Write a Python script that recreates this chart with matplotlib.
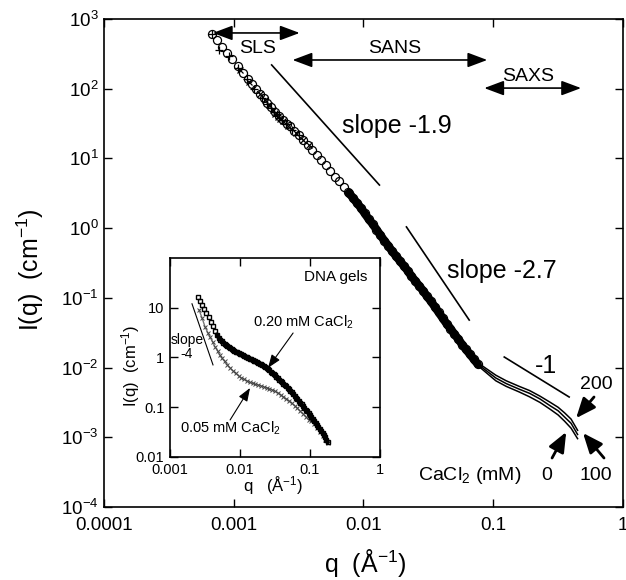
import numpy as np
import matplotlib.pyplot as plt
from matplotlib.ticker import NullLocator

plt.rcParams.update({
    'font.family': ['Liberation Sans', 'DejaVu Sans'],
    'mathtext.fontset': 'custom',
    'mathtext.rm': 'Liberation Sans',
    'mathtext.it': 'Liberation Sans:italic',
    'mathtext.bf': 'Liberation Sans:bold',
    'axes.linewidth': 1.2,
})

# ---- main panel: log10 q (1/A) and log10 I(q) (1/cm) ----
# light scattering, open circles
lq_sls_o = [-3.165, -3.13, -3.09, -3.05, -3.01, -2.97, -2.93, -2.89, -2.86, -2.83,
            -2.80, -2.77, -2.74, -2.71, -2.68, -2.65, -2.62, -2.59]
lI_sls_o = [2.79, 2.70, 2.60, 2.51, 2.42, 2.32, 2.23, 2.14, 2.07, 2.00,
            1.93, 1.87, 1.80, 1.74, 1.67, 1.61, 1.55, 1.49]
# light scattering, plus signs
lq_sls_p = [-3.165, -3.11, -3.04, -2.97, -2.90, -2.84, -2.78, -2.74, -2.71, -2.69,
            -2.67, -2.65, -2.63, -2.60, -2.55, -2.50]
lI_sls_p = [2.78, 2.56, 2.47, 2.30, 2.14, 2.00, 1.87, 1.78, 1.72, 1.67,
            1.63, 1.58, 1.55, 1.50, 1.41, 1.33]
# light scattering, crosses
lq_sls_x = [-2.95, -2.88, -2.80, -2.76, -2.73, -2.70, -2.68, -2.66, -2.64, -2.62,
            -2.58, -2.52, -2.47, -2.42]
lI_sls_x = [2.27, 2.10, 1.92, 1.84, 1.76, 1.70, 1.64, 1.60, 1.57, 1.54,
            1.46, 1.36, 1.27, 1.19]

# neutrons, low-q end
lq_sans_lo = [-2.57, -2.535, -2.50, -2.465, -2.43, -2.395, -2.36, -2.325, -2.29,
              -2.255, -2.22, -2.185, -2.15, -2.12]
lI_sans_lo = [1.46, 1.40, 1.33, 1.26, 1.19, 1.12, 1.05, 0.97, 0.90,
              0.82, 0.74, 0.67, 0.59, 0.52]
# neutrons, dense part
lq_sans = [-2.11, -2.08, -2.05, -2.02, -1.99, -1.96, -1.93, -1.90, -1.87, -1.84,
           -1.81, -1.78, -1.75, -1.72, -1.69, -1.66, -1.63, -1.60, -1.57, -1.54,
           -1.51, -1.48, -1.45, -1.42, -1.39, -1.36, -1.33, -1.30, -1.27, -1.24,
           -1.21, -1.18, -1.15, -1.12]
lI_sans = [0.50, 0.43, 0.36, 0.29, 0.21, 0.13, 0.06, -0.02, -0.10, -0.18,
           -0.25, -0.33, -0.40, -0.47, -0.54, -0.61, -0.69, -0.76, -0.83, -0.90,
           -0.98, -1.05, -1.13, -1.21, -1.29, -1.37, -1.44, -1.52, -1.59, -1.67,
           -1.74, -1.81, -1.88, -1.95]

# x-rays, one curve per CaCl2 concentration
lq_saxs = [-1.12, -1.05, -0.98, -0.90, -0.80, -0.72, -0.64, -0.56, -0.50, -0.45, -0.40, -0.35]
lI_saxs_200 = [-1.93, -2.02, -2.11, -2.19, -2.27, -2.33, -2.41, -2.50, -2.57, -2.65, -2.74, -2.90]
lI_saxs_0 = [-1.95, -2.05, -2.15, -2.23, -2.31, -2.37, -2.45, -2.55, -2.62, -2.71, -2.80, -2.96]
lI_saxs_100 = [-1.97, -2.08, -2.19, -2.27, -2.35, -2.42, -2.50, -2.60, -2.68, -2.77, -2.87, -3.02]

# power-law guides (q, I) end points
guide_19 = ([0.00196, 0.01327], [219.0, 4.15])
guide_27 = ([0.02143, 0.0653], [1.04, 0.048])
guide_1 = ([0.1216, 0.3846], [0.01416, 0.00378])

# ---- inset: DNA gels ----
lq_020_top = [-2.60, -2.57, -2.54, -2.51, -2.48, -2.45, -2.42, -2.39, -2.36]
lI_020_top = [1.22, 1.14, 1.06, 0.98, 0.89, 0.82, 0.72, 0.63, 0.53]
lq_020 = [-2.33, -2.30, -2.28, -2.26, -2.24, -2.22, -2.20, -2.18, -2.16, -2.14,
          -2.12, -2.10, -2.08, -2.06, -2.04, -2.02, -2.00, -1.98, -1.96, -1.94,
          -1.92, -1.90, -1.88, -1.86, -1.84, -1.82, -1.80, -1.78, -1.76, -1.74,
          -1.72, -1.70, -1.68, -1.66, -1.64, -1.62, -1.60, -1.58, -1.56, -1.54,
          -1.52, -1.50, -1.48, -1.46, -1.44, -1.42, -1.40, -1.38, -1.36, -1.34,
          -1.32, -1.30, -1.28, -1.26, -1.24, -1.22, -1.20, -1.18, -1.16, -1.14,
          -1.12, -1.10, -1.08, -1.06, -1.04, -1.02, -1.00, -0.98, -0.96, -0.94,
          -0.92, -0.90, -0.88, -0.86, -0.84, -0.82, -0.80, -0.78, -0.765, -0.75]
lI_020 = [0.46, 0.39, 0.36, 0.33, 0.30, 0.28, 0.26, 0.24, 0.22, 0.20,
          0.18, 0.16, 0.14, 0.12, 0.105, 0.09, 0.075, 0.06, 0.045, 0.03,
          0.015, 0.00, -0.015, -0.03, -0.04, -0.05, -0.065, -0.08, -0.095, -0.11,
          -0.125, -0.14, -0.16, -0.18, -0.20, -0.22, -0.24, -0.26, -0.285, -0.31,
          -0.335, -0.36, -0.39, -0.42, -0.445, -0.47, -0.50, -0.53, -0.555, -0.58,
          -0.61, -0.64, -0.67, -0.70, -0.735, -0.77, -0.805, -0.84, -0.875, -0.91,
          -0.945, -0.98, -1.015, -1.05, -1.085, -1.12, -1.16, -1.20, -1.235, -1.27,
          -1.31, -1.35, -1.39, -1.43, -1.47, -1.51, -1.555, -1.60, -1.65, -1.70]
lq_005 = [-2.586, -2.543, -2.50, -2.46, -2.43, -2.39, -2.357, -2.32, -2.29, -2.26,
          -2.22, -2.18, -2.14, -2.10, -2.06, -2.02, -1.98, -1.94, -1.90, -1.86,
          -1.82, -1.78, -1.74, -1.70, -1.66, -1.62, -1.58, -1.54, -1.50, -1.46,
          -1.42, -1.38, -1.34, -1.30, -1.26, -1.22, -1.18, -1.14, -1.10, -1.06,
          -1.02, -0.98, -0.94, -0.90, -0.86, -0.82, -0.78, -0.75]
lI_005 = [0.958, 0.797, 0.616, 0.50, 0.414, 0.31, 0.213, 0.13, 0.05, -0.01,
          -0.08, -0.15, -0.21, -0.27, -0.32, -0.37, -0.41, -0.44, -0.47, -0.50,
          -0.52, -0.54, -0.55, -0.57, -0.59, -0.61, -0.63, -0.65, -0.68, -0.71,
          -0.75, -0.79, -0.83, -0.87, -0.92, -0.97, -1.02, -1.08, -1.13, -1.19,
          -1.25, -1.28, -1.34, -1.41, -1.49, -1.57, -1.65, -1.71]
guide_4 = ([0.00206, 0.00411], [12.0, 0.71])

main_xticks = [1e-4, 1e-3, 1e-2, 1e-1, 1.0]
main_xticklabels = ['0.0001', '0.001', '0.01', '0.1', '1']
main_yexp = [-4, -3, -2, -1, 0, 1, 2, 3]
ins_xticks = [1e-3, 1e-2, 1e-1, 1.0]
ins_xticklabels = ['0.001', '0.01', '0.1', '1']
ins_yticks = [0.01, 0.1, 1.0, 10.0]
ins_yticklabels = ['0.01', '0.1', '1', '10']


def p10(a):
    return np.power(10.0, np.asarray(a))


def style_axes(ax, size, pad):
    ax.set_xscale('log')
    ax.set_yscale('log')
    ax.xaxis.set_minor_locator(NullLocator())
    ax.yaxis.set_minor_locator(NullLocator())
    ax.tick_params(which='major', direction='in', top=True, right=True,
                   length=6, width=1.0, labelsize=size, pad=pad)


fig = plt.figure(figsize=(6.26, 5.8), dpi=100)
ax = fig.add_axes([0.1661, 0.1259, 0.8291, 0.8414])
style_axes(ax, 13.5, 4)

circ = dict(ls='none', marker='o', ms=5.8, mfc='none', mec='k', mew=0.9)
ax.plot(p10(lq_sls_o), p10(lI_sls_o), **circ)
ax.plot(p10(lq_sls_p), p10(lI_sls_p), ls='none', marker='+', ms=6, mec='k', mew=0.9)
ax.plot(p10(lq_sls_x), p10(lI_sls_x), ls='none', marker='x', ms=5, mec='k', mew=0.9)
ax.plot(p10(lq_sans_lo), p10(lI_sans_lo), **circ)
ax.plot(p10(lq_sans), p10(lI_sans), color='k', lw=6, solid_capstyle='round')
ax.plot(p10(lq_sans), p10(lI_sans), **circ)
for lI in (lI_saxs_200, lI_saxs_0, lI_saxs_100):
    ax.plot(p10(lq_saxs), p10(lI), color='k', lw=1.1)

for gq, gI in (guide_19, guide_27, guide_1):
    ax.plot(gq, gI, color='k', lw=1.2)

ax.set_xlim(1e-4, 1)
ax.set_ylim(1e-4, 1e3)
ax.set_xticks(main_xticks)
ax.set_xticklabels(main_xticklabels)
ax.set_yticks([10.0 ** e for e in main_yexp])
ax.set_yticklabels([r'$\mathregular{10^{%d}}$' % e for e in main_yexp])
ax.tick_params(axis='x', pad=7)

# measurement ranges
span = dict(arrowstyle='<|-|>,head_length=1.2,head_width=0.45', mutation_scale=10,
            lw=1.2, color='k', shrinkA=0, shrinkB=0)
for q0, q1, yI in ((0.00069, 0.00322, 630), (0.00284, 0.0899, 258), (0.0853, 0.475, 102)):
    ax.annotate('', xy=(q1, yI), xytext=(q0, yI), arrowprops=span)
ax.text(0.00153, 325, 'SLS', fontsize=14, ha='center', va='baseline')
ax.text(0.0173, 325, 'SANS', fontsize=14, ha='center', va='baseline')
ax.text(0.186, 129, 'SAXS', fontsize=14, ha='center', va='baseline')

ax.text(0.0181, 23.1, 'slope -1.9', fontsize=18, ha='center', va='baseline')
ax.text(0.117, 0.192, 'slope -2.7', fontsize=18, ha='center', va='baseline')
ax.text(0.256, 0.00834, '-1', fontsize=18, ha='center', va='baseline')

# concentration markers
big = dict(arrowstyle='-|>,head_length=1.2,head_width=0.5', mutation_scale=10,
           lw=2.0, color='k', shrinkA=0, shrinkB=0)
ax.annotate('', xy=(0.435, 0.00188), xytext=(0.598, 0.00378), arrowprops=big)
ax.annotate('', xy=(0.365, 0.00119), xytext=(0.284, 0.000504), arrowprops=big)
ax.annotate('', xy=(0.492, 0.00115), xytext=(0.714, 0.000504), arrowprops=big)
ax.text(0.62, 0.00491, '200', fontsize=14, ha='center', va='baseline')
ax.text(0.256, 0.000243, '0', fontsize=14, ha='center', va='baseline')
ax.text(0.62, 0.000243, '100', fontsize=14, ha='center', va='baseline')
ax.text(0.0653, 0.000243, r'CaCl$_{\mathregular{2}}$ (mM)', fontsize=14,
        ha='center', va='baseline')

fig.text(0.583, 0.029, r'q  (Å$^{\mathregular{-1}}$)', fontsize=18, ha='center', va='center')
fig.text(0.048, 0.5345, r'I(q)  (cm$^{\mathregular{-1}}$)', fontsize=18, rotation=90,
         ha='center', va='center')

# ---- inset ----
axin = fig.add_axes([0.2716, 0.2121, 0.3355, 0.3431])
style_axes(axin, 10.5, 4)
axin.plot(p10(lq_005), p10(lI_005), color='#777777', lw=1.0)
axin.plot(p10(lq_005), p10(lI_005), ls='none', marker='x', ms=3, mec='#444444', mew=0.7)
axin.plot(p10(lq_020), p10(lI_020), color='k', lw=3.0, solid_capstyle='round')
axin.plot(p10(lq_020_top), p10(lI_020_top), ls='none', marker='s', ms=3.5,
          mfc='none', mec='k', mew=1.0)
axin.plot(p10(lq_020), p10(lI_020), ls='none', marker='s', ms=3.5,
          mfc='none', mec='k', mew=1.0)
axin.plot(guide_4[0], guide_4[1], color='k', lw=0.8)
axin.set_xlim(1e-3, 1)
axin.set_ylim(1e-2, 1e2)
axin.set_xticks(ins_xticks)
axin.set_xticklabels(ins_xticklabels)
axin.set_yticks(ins_yticks)
axin.set_yticklabels(ins_yticklabels)

axin.text(0.79, 0.905, 'DNA gels', fontsize=11, ha='center', va='center',
          transform=axin.transAxes)
axin.text(0.00175, 1.63, 'slope\n-4', fontsize=10, ha='center', va='center',
          linespacing=0.95)
thin = dict(arrowstyle='-|>,head_length=0.8,head_width=0.3', mutation_scale=10,
            lw=0.8, color='k', shrinkA=0, shrinkB=0)
axin.annotate('', xy=(0.0251, 0.618), xytext=(0.586, 0.623), textcoords='axes fraction',
              arrowprops=thin)
axin.annotate('', xy=(0.0139, 0.244), xytext=(0.286, 0.186), textcoords='axes fraction',
              arrowprops=thin)
axin.text(0.636, 0.653, r'0.20 mM CaCl$_{\mathregular{2}}$', fontsize=10.5, ha='center',
          va='baseline', transform=axin.transAxes)
axin.text(0.286, 0.121, r'0.05 mM CaCl$_{\mathregular{2}}$', fontsize=10.5, ha='center',
          va='baseline', transform=axin.transAxes)
axin.text(0.49, -0.146, r'q   (Å$^{\mathregular{-1}}$)', fontsize=12, ha='center',
          va='center', transform=axin.transAxes)
axin.text(-0.19, 0.457, r'I(q)  (cm$^{\mathregular{-1}}$)', fontsize=12, rotation=90,
          ha='center', va='center', transform=axin.transAxes)

fig.savefig('out.png', dpi=100)
